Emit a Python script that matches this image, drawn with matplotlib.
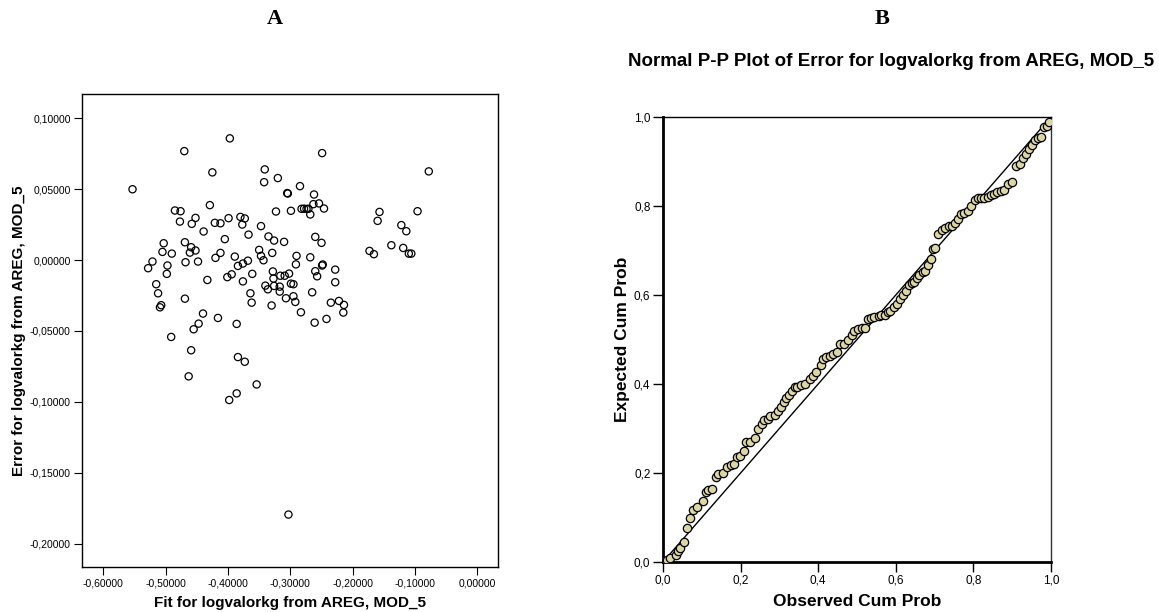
import matplotlib
matplotlib.use("Agg")
import matplotlib.pyplot as plt
from matplotlib.ticker import FuncFormatter

plt.rcParams['font.family'] = ['Liberation Sans', 'DejaVu Sans']

# panel A: fit vs error
fit_vals = [-0.397, -0.470, -0.249, -0.078, -0.425, -0.341, -0.342, -0.320, -0.553, -0.2845,
            -0.305, -0.304, -0.262, -0.254, -0.263, -0.246, -0.282, -0.278, -0.274, -0.271,
            -0.268, -0.299, -0.323, -0.429, -0.485, -0.476, -0.477, -0.452, -0.458, -0.439,
            -0.421, -0.412, -0.399, -0.380, -0.373, -0.377, -0.347, -0.367, -0.335, -0.326,
            -0.310, -0.405, -0.469, -0.503, -0.459, -0.452, -0.461, -0.505, -0.490, -0.412,
            -0.420, -0.389, -0.350, -0.347, -0.343, -0.368, -0.329, -0.290, -0.268, -0.260,
            -0.250, -0.157, -0.160, -0.138, -0.173, -0.166, -0.122, -0.114, -0.119, -0.110,
            -0.106, -0.096, -0.528, -0.521, -0.497, -0.498, -0.468, -0.448, -0.384, -0.376,
            -0.361, -0.394, -0.401, -0.433, -0.376, -0.328, -0.327, -0.316, -0.309, -0.302,
            -0.291, -0.299, -0.295, -0.260, -0.257, -0.248, -0.249, -0.228, -0.228, -0.515,
            -0.512, -0.507, -0.509, -0.469, -0.364, -0.362, -0.340, -0.336, -0.326, -0.317,
            -0.317, -0.307, -0.295, -0.292, -0.330, -0.265, -0.283, -0.235, -0.222, -0.214,
            -0.215, -0.242, -0.261, -0.440, -0.416, -0.447, -0.455, -0.491, -0.386, -0.459,
            -0.384, -0.373, -0.463, -0.354, -0.386, -0.398, -0.303]
err_vals = [0.0859, 0.0769, 0.0755, 0.0626, 0.0619, 0.0640, 0.0550, 0.0579, 0.0500, 0.0522,
            0.0473, 0.0470, 0.0463, 0.0400, 0.0395, 0.0364, 0.0362, 0.0363, 0.0361, 0.0362,
            0.0322, 0.0348, 0.0343, 0.0388, 0.0350, 0.0345, 0.0272, 0.0298, 0.0256, 0.0202,
            0.0263, 0.0260, 0.0296, 0.0305, 0.0294, 0.0251, 0.0240, 0.0180, 0.0167, 0.0138,
            0.0129, 0.0148, 0.0126, 0.0119, 0.0091, 0.0068, 0.0053, 0.0058, 0.0046, 0.0051,
            0.0016, 0.0025, 0.0072, 0.0030, -0.0001, -0.0004, 0.0051, 0.0030, 0.0020, 0.0164,
            0.0122, 0.0340, 0.0277, 0.0105, 0.0065, 0.0042, 0.0247, 0.0204, 0.0086, 0.0046,
            0.0046, 0.0345, -0.0057, -0.0010, -0.0038, -0.0097, -0.0015, -0.0010, -0.0041, -0.0024,
            -0.0097, -0.0100, -0.0120, -0.0140, -0.0150, -0.0080, -0.0130, -0.0110, -0.0110, -0.0095,
            -0.0030, -0.0166, -0.0170, -0.0078, -0.0114, -0.0031, -0.0038, -0.0067, -0.0156, -0.0170,
            -0.0234, -0.0318, -0.0333, -0.0272, -0.0234, -0.0300, -0.0180, -0.0206, -0.0182, -0.0187,
            -0.0222, -0.0269, -0.0255, -0.0295, -0.0320, -0.0227, -0.0368, -0.0300, -0.0288, -0.0316,
            -0.0370, -0.0415, -0.0441, -0.0377, -0.0408, -0.0448, -0.0488, -0.0542, -0.0450, -0.0636,
            -0.0684, -0.0717, -0.0820, -0.0877, -0.0940, -0.0987, -0.1795]

# panel B: normal P-P plot points
obs_cum = [0.003, 0.011, 0.019, 0.033, 0.039, 0.045, 0.055, 0.062, 0.070, 0.078,
           0.088, 0.102, 0.110, 0.117, 0.127, 0.136, 0.143, 0.155, 0.164, 0.174,
           0.183, 0.191, 0.199, 0.208, 0.215, 0.224, 0.237, 0.246, 0.254, 0.260,
           0.270, 0.277, 0.288, 0.297, 0.304, 0.311, 0.318, 0.325, 0.333, 0.339,
           0.346, 0.356, 0.366, 0.378, 0.387, 0.395, 0.406, 0.413, 0.421, 0.430,
           0.438, 0.448, 0.457, 0.466, 0.476, 0.486, 0.493, 0.503, 0.513, 0.520,
           0.529, 0.537, 0.545, 0.556, 0.563, 0.571, 0.579, 0.586, 0.595, 0.603,
           0.611, 0.618, 0.625, 0.633, 0.641, 0.647, 0.654, 0.661, 0.669, 0.676,
           0.682, 0.690, 0.696, 0.702, 0.710, 0.718, 0.727, 0.738, 0.745, 0.752,
           0.761, 0.768, 0.776, 0.785, 0.794, 0.803, 0.811, 0.820, 0.828, 0.837,
           0.845, 0.852, 0.862, 0.870, 0.879, 0.889, 0.899, 0.909, 0.919, 0.927,
           0.935, 0.943, 0.951, 0.959, 0.967, 0.974, 0.981, 0.990, 0.996]
exp_cum = [0.002, 0.005, 0.008, 0.015, 0.025, 0.031, 0.045, 0.076, 0.098, 0.116,
           0.123, 0.137, 0.157, 0.162, 0.165, 0.190, 0.198, 0.200, 0.213, 0.217,
           0.221, 0.235, 0.239, 0.250, 0.270, 0.270, 0.278, 0.299, 0.309, 0.318,
           0.321, 0.327, 0.331, 0.339, 0.348, 0.360, 0.368, 0.376, 0.385, 0.393,
           0.393, 0.397, 0.399, 0.411, 0.419, 0.427, 0.442, 0.457, 0.460, 0.463,
           0.468, 0.471, 0.489, 0.491, 0.498, 0.509, 0.519, 0.524, 0.525, 0.526,
           0.545, 0.548, 0.551, 0.552, 0.555, 0.556, 0.561, 0.565, 0.573, 0.579,
           0.591, 0.600, 0.609, 0.622, 0.627, 0.630, 0.638, 0.646, 0.651, 0.653,
           0.668, 0.681, 0.704, 0.705, 0.736, 0.745, 0.751, 0.754, 0.755, 0.761,
           0.771, 0.781, 0.784, 0.789, 0.799, 0.813, 0.818, 0.817, 0.817, 0.820,
           0.824, 0.828, 0.831, 0.833, 0.835, 0.849, 0.854, 0.890, 0.894, 0.907,
           0.917, 0.928, 0.936, 0.948, 0.953, 0.954, 0.977, 0.980, 0.989]

a_xticks = [-0.6, -0.5, -0.4, -0.3, -0.2, -0.1, 0.0]
a_yticks = [0.10, 0.05, 0.0, -0.05, -0.10, -0.15, -0.20]
b_ticks = [0.0, 0.2, 0.4, 0.6, 0.8, 1.0]

W, H = 1159, 612


def komma(dec):
    def f(v, pos):
        s = f"{v:.{dec}f}".replace('.', ',')
        if s.startswith('-') and float(s[1:].replace(',', '.')) == 0:
            s = s[1:]
        return s
    return FuncFormatter(f)


def px_axes(x0, y0, x1, y1):
    # pixel box (top-left origin) -> figure fraction rect
    return [x0 / W, 1 - y1 / H, (x1 - x0) / W, (y1 - y0) / H]


fig = plt.figure(figsize=(W / 100, H / 100), dpi=100)

# ---- panel A ----
axA = fig.add_axes(px_axes(82, 94, 498, 567))
axA.scatter(fit_vals, err_vals, s=27, facecolors='none', edgecolors='black', linewidths=0.9)
axA.set_xlim(-0.634, 0.033)
axA.set_ylim(-0.2165, 0.1172)
axA.set_xticks(a_xticks)
axA.set_yticks(a_yticks)
axA.xaxis.set_major_formatter(komma(5))
axA.yaxis.set_major_formatter(komma(5))
axA.tick_params(direction='out', length=6, width=0.8, labelsize=7.5, pad=2)
for sp in axA.spines.values():
    sp.set_linewidth(1.0)
axA.set_xlabel('Fit for logvalorkg from AREG, MOD_5', fontsize=11, fontweight='bold')
axA.set_ylabel('Error for logvalorkg from AREG, MOD_5', fontsize=11, fontweight='bold')
axA.xaxis.label.set_va('center')
axA.yaxis.label.set_va('center')
axA.xaxis.set_label_coords(0.5, (567 - 603) / 473)
axA.yaxis.set_label_coords((19 - 82) / 416, 0.5)

# ---- panel B ----
axB = fig.add_axes(px_axes(663, 117, 1051, 562))
axB.plot([0, 1], [0, 1], color='black', linewidth=1.0, zorder=2)
axB.scatter(obs_cum, exp_cum, s=36, facecolors='#dcd6a2', edgecolors='black', linewidths=0.9,
            zorder=3)
axB.set_xlim(0, 1)
axB.set_ylim(0, 1)
axB.set_xticks(b_ticks)
axB.set_yticks(b_ticks)
axB.xaxis.set_major_formatter(komma(1))
axB.yaxis.set_major_formatter(komma(1))
axB.tick_params(direction='out', length=7, width=1.0, labelsize=8.5, pad=2)
axB.spines['left'].set_linewidth(2.0)
axB.spines['bottom'].set_linewidth(2.0)
axB.spines['top'].set_linewidth(1.0)
axB.spines['right'].set_linewidth(1.0)
axB.spines['right'].set_color('#333333')
axB.set_xlabel('Observed Cum Prob', fontsize=12.5, fontweight='bold')
axB.set_ylabel('Expected Cum Prob', fontsize=12.5, fontweight='bold')
axB.xaxis.label.set_va('center')
axB.yaxis.label.set_va('center')
axB.xaxis.set_label_coords(0.5, (562 - 602) / 445)
axB.yaxis.set_label_coords((622 - 663) / 388, 0.5)

fig.text(891 / W, 1 - 62 / H, 'Normal P-P Plot of Error for logvalorkg from AREG, MOD_5',
         ha='center', va='center', fontsize=13.5, fontweight='bold')

fig.text(275 / W, 1 - 19 / H, 'A', ha='center', va='center', fontsize=16,
         fontweight='bold', family=['Liberation Serif', 'DejaVu Serif'])
fig.text(882 / W, 1 - 19 / H, 'B', ha='center', va='center', fontsize=16,
         fontweight='bold', family=['Liberation Serif', 'DejaVu Serif'])

fig.savefig('out.png', dpi=100)
